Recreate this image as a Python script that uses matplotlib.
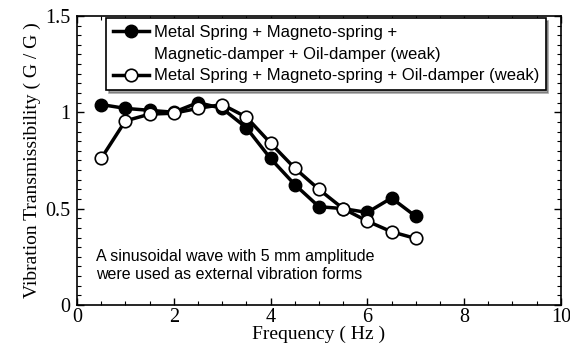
import numpy as np
import matplotlib
matplotlib.use('Agg')
import matplotlib.pyplot as plt
from matplotlib.ticker import MultipleLocator
from matplotlib.lines import Line2D

# frequency (Hz)
freq = [0.5, 1, 1.5, 2, 2.5, 3, 3.5, 4, 4.5, 5, 5.5, 6, 6.5, 7]
# metal spring + magneto-spring + magnetic-damper + oil-damper (weak)
filled = [1.04, 1.02, 1.01, 1.00, 1.05, 1.02, 0.92, 0.76, 0.625, 0.51, 0.50, 0.48, 0.555, 0.46]
# metal spring + magneto-spring + oil-damper (weak)
opened = [0.76, 0.955, 0.99, 0.995, 1.02, 1.04, 0.975, 0.84, 0.71, 0.60, 0.50, 0.435, 0.38, 0.345]

labels = ['Metal Spring + Magneto-spring +',
          'Magnetic-damper + Oil-damper (weak)',
          'Metal Spring + Magneto-spring + Oil-damper (weak)']

fig = plt.figure(figsize=(5.7, 3.45), dpi=100)
ax = fig.add_axes([0.135, 0.116, 0.849, 0.838])

h1, = ax.plot(freq, filled, 'k-', lw=2.5, marker='o', ms=9, mfc='k', mec='k')
h2, = ax.plot(freq, opened, 'k-', lw=2.5, marker='o', ms=9, mfc='w', mec='k', mew=1.2)
blank = Line2D([], [], linestyle='none', marker='none')

ax.set_xlim(0, 10)
ax.set_ylim(0, 1.5)
ax.xaxis.set_minor_locator(MultipleLocator(0.5))
ax.yaxis.set_minor_locator(MultipleLocator(0.05))
ax.set_xticks([0, 2, 4, 6, 8, 10])
ax.set_xticklabels(['0', '2', '4', '6', '8', '10'])
ax.set_yticks([0, 0.5, 1, 1.5])
ax.set_yticklabels(['0', '0.5', '1', '1.5'])
ax.tick_params(which='both', direction='in', top=True, right=True)
ax.tick_params(which='major', length=5, width=1)
ax.tick_params(which='minor', length=3, width=0.8)
ax.tick_params(axis='x', pad=2)
ax.tick_params(axis='y', pad=5)
for lab in ax.get_xticklabels() + ax.get_yticklabels():
    lab.set_fontfamily('Liberation Serif')
    lab.set_fontsize(14.5)
for s in ax.spines.values():
    s.set_linewidth(1.2)

ax.set_xlabel('Frequency ( Hz )', family='Liberation Serif', fontsize=14, labelpad=-1)
ax.set_ylabel('Vibration Transmissibility ( G / G )', family='Liberation Serif', fontsize=14, labelpad=3)

leg = ax.legend([h1, blank, h2], labels, loc='upper left', bbox_to_anchor=(0.055, 1.0),
                prop={'family': 'Liberation Sans', 'size': 12},
                frameon=True, fancybox=False, shadow=True, handlelength=2.2, handletextpad=0.25,
                borderpad=0.4, labelspacing=0.4, borderaxespad=0.15)
leg.get_frame().set_edgecolor('k')
leg.get_frame().set_linewidth(1.2)

ax.text(0.4, 0.12, 'A sinusoidal wave with 5 mm amplitude\nwere used as external vibration forms',
        family='Liberation Sans', fontsize=11.5, va='bottom', ha='left', linespacing=1.25)

fig.savefig('out.png', dpi=100)
